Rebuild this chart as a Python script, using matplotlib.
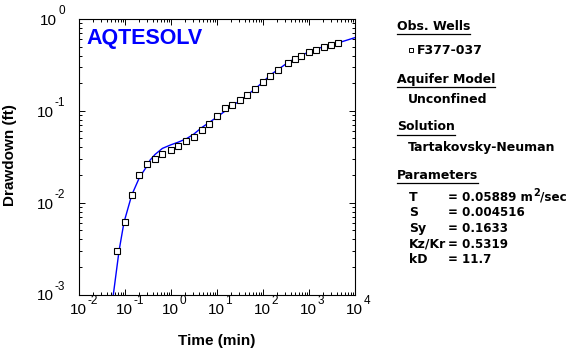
import matplotlib
matplotlib.use("Agg")
import matplotlib.pyplot as plt
from matplotlib.lines import Line2D

# -----------------------------
# Data
# -----------------------------
# observed drawdown, well F377-037
obs_time_min = [0.068, 0.099, 0.145, 0.206, 0.308, 0.453, 0.653, 1.0, 1.39, 2.14,
                3.09, 4.62, 6.57, 9.83, 15.2, 20.9, 31.1, 44.2, 66.0, 98.7,
                145, 209, 345, 491, 663, 991, 1407, 2100, 3040, 4240]
obs_drawdown_ft = [0.0030, 0.0061, 0.0121, 0.0200, 0.0264, 0.0300, 0.0338, 0.0374, 0.0417, 0.0472,
                   0.0521, 0.0621, 0.0722, 0.0875, 0.107, 0.115, 0.131, 0.149, 0.173, 0.207,
                   0.240, 0.277, 0.330, 0.365, 0.393, 0.434, 0.456, 0.496, 0.521, 0.544]

# fitted Tartakovsky-Neuman type curve
fit_time_min = [0.0558, 0.0743, 0.095, 0.140, 0.206, 0.308, 0.35, 0.45, 0.65, 1.0,
                1.39, 2.14, 3.09, 4.62, 6.57, 9.83, 15.2, 20.9, 31.1, 44.2,
                66.0, 98.7, 145, 209, 345, 491, 991, 1407, 2100, 4240, 10000]
fit_drawdown_ft = [0.0010, 0.0030, 0.0061, 0.0121, 0.0188, 0.0255, 0.0290, 0.0335, 0.0390, 0.0427,
                   0.0453, 0.0495, 0.0555, 0.0655, 0.0740, 0.0850, 0.100, 0.113, 0.128, 0.147,
                   0.172, 0.205, 0.246, 0.280, 0.335, 0.370, 0.438, 0.470, 0.500, 0.548, 0.627]

X_DECADES = [-2, -1, 0, 1, 2, 3, 4]
Y_DECADES = [-3, -2, -1, 0]

WELL_NAME = "F377-037"
AQUIFER_MODEL = "Unconfined"
SOLUTION = "Tartakovsky-Neuman"
PARAM_NAMES = ["T", "S", "Sy", "Kz/Kr", "kD"]
PARAM_VALUES = ["= 0.05889 m", "= 0.004516", "= 0.1633", "= 0.5319", "= 11.7"]

FONT = "Liberation Sans"
PANEL_FONT = "DejaVu Sans"
CURVE_BLUE = "#0000ff"
W, H = 572, 350


def fx(px):
    return px / W


def fy(py):
    return 1 - py / H


# -----------------------------
# Axis helpers
# -----------------------------
def decade_labels(ax):
    for e in X_DECADES:
        base = ax.annotate("10", xy=(10.0 ** e, 0), xycoords=ax.get_xaxis_transform(),
                           xytext=(-1, -9), textcoords="offset pixels",
                           ha="center", va="top", fontsize=11, family=FONT)
        ax.annotate(str(e), xy=(1, 1), xycoords=base, xytext=(1, -4),
                    textcoords="offset pixels", ha="left", va="bottom",
                    fontsize=8.5, family=FONT, annotation_clip=False)

    for e in Y_DECADES:
        exp = ax.annotate(str(e), xy=(0, 10.0 ** e), xycoords=ax.get_yaxis_transform(),
                          xytext=(-14, 2), textcoords="offset pixels",
                          ha="right", va="bottom", fontsize=8.5, family=FONT,
                          annotation_clip=False)
        ax.annotate("10", xy=(0, 10.0 ** e), xycoords=(exp, ax.get_yaxis_transform()),
                    xytext=(-1, -2), textcoords="offset pixels",
                    ha="right", va="center", fontsize=11, family=FONT,
                    annotation_clip=False)


def side_panel(fig):
    renderer = fig.canvas.get_renderer()
    kw = dict(fontsize=9, fontweight="bold", family=PANEL_FONT, va="baseline", ha="left")
    val_kw = dict(kw, fontsize=8.6)

    headers = [("Obs. Wells", 30), ("Aquifer Model", 82.5), ("Solution", 130.5), ("Parameters", 179)]
    for label, base_y in headers:
        t = fig.text(fx(397), fy(base_y), label, **kw)
        bb = t.get_window_extent(renderer)
        fig.add_artist(Line2D([fx(397), bb.x1 / W], [fy(base_y + 4), fy(base_y + 4)],
                              transform=fig.transFigure, color="black", lw=0.9))

    fig.add_artist(Line2D([fx(411)], [fy(50)], transform=fig.transFigure, marker="s",
                          markersize=3.4, markerfacecolor="white", markeredgecolor="black",
                          markeredgewidth=0.7, linestyle="none"))
    fig.text(fx(417), fy(54), WELL_NAME, **kw)
    fig.text(fx(408), fy(103), AQUIFER_MODEL, **kw)
    fig.text(fx(408), fy(151.5), SOLUTION, **kw)

    rows_y = [201, 216.5, 232, 247.5, 263]
    for name, value, y in zip(PARAM_NAMES, PARAM_VALUES, rows_y):
        fig.text(fx(409), fy(y), name, **kw)
        v = fig.text(fx(448), fy(y), value, **val_kw)
        if name == "T":
            sup = fig.text(0, 0, "2", fontsize=7, fontweight="bold", family=PANEL_FONT,
                           ha="left", va="baseline")
            bb = v.get_window_extent(renderer)
            sup.set_position(((bb.x1 + 0.5) / W, fy(y - 5)))
            sb = sup.get_window_extent(renderer)
            fig.text(sb.x1 / W, fy(y), "/sec", **val_kw)


# -----------------------------
# Figure
# -----------------------------
fig = plt.figure(figsize=(W / 100, H / 100), dpi=100)
ax = fig.add_axes([fx(79), fy(294.5), fx(355) - fx(79), fy(19) - fy(294.5)])

ax.plot(fit_time_min, fit_drawdown_ft, color=CURVE_BLUE, lw=1.0, zorder=2)
ax.plot(obs_time_min, obs_drawdown_ft, linestyle="none", marker="s", markersize=4.6,
        markerfacecolor="white", markeredgecolor="black", markeredgewidth=0.8, zorder=3)

ax.set_xscale("log")
ax.set_yscale("log")
ax.set_xlim(1e-2, 1e4)
ax.set_ylim(1e-3, 1e0)

for s in ax.spines.values():
    s.set_linewidth(0.8)
ax.tick_params(which="both", direction="in", top=True, right=True, width=0.7,
               labelbottom=False, labelleft=False)
ax.tick_params(which="major", length=4.2)
ax.tick_params(which="minor", length=2.2)

decade_labels(ax)

fig.text(fx(217), fy(341.5), "Time (min)", ha="center", va="center",
         fontsize=11, fontweight="bold", family=FONT)
fig.text(fx(10.5), fy(155), "Drawdown (ft)", ha="center", va="center", rotation=90,
         fontsize=11, fontweight="bold", family=FONT)

ax.text(0.026, 0.966, "AQTESOLV", transform=ax.transAxes, ha="left", va="top",
        fontsize=15.5, fontweight="heavy", family=FONT, color=CURVE_BLUE)

side_panel(fig)

fig.savefig("out.png", dpi=100)
